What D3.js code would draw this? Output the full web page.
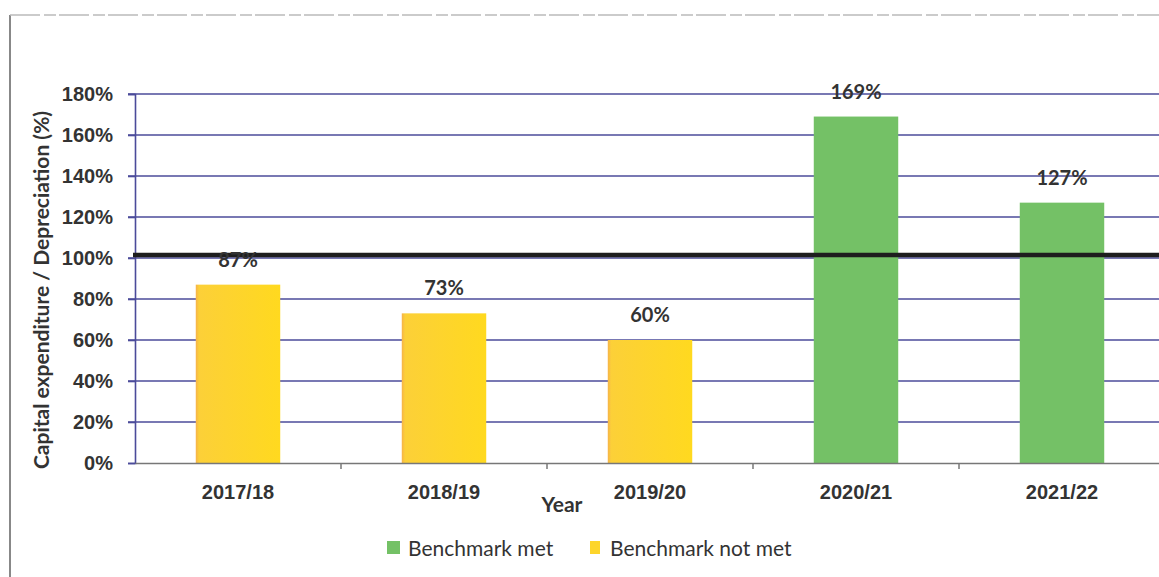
<!DOCTYPE html>
<html>
<head>
<meta charset="utf-8">
<script src="https://cdn.jsdelivr.net/npm/d3@7"></script>
<style>
  html, body { margin: 0; padding: 0; background: #fff; }
  svg { display: block; font-family: Lato, "Open Sans", sans-serif; }
</style>
</head>
<body>
<svg id="chart" width="1159" height="577"></svg>
<script>
// Capital expenditure as a share of depreciation, by financial year
const years = ["2017/18", "2018/19", "2019/20", "2020/21", "2021/22"];
const ratios = [87, 73, 60, 169, 127];
const benchmark = 100;
const yTicks = [0, 20, 40, 60, 80, 100, 120, 140, 160, 180];
const legendItems = ["Benchmark met", "Benchmark not met"];

const colMet = "#74c166";
const colNotMet = "#fdd52b";
const gridCol = "#4b4b9a";
const textCol = "#333";
const fs = 20;

const svg = d3.select("#chart");

// page frame
svg.append("line").attr("x1", 10).attr("x2", 10).attr("y1", 15).attr("y2", 577)
  .attr("stroke", "#888").attr("stroke-width", 2);
svg.append("line").attr("x1", 10).attr("x2", 1159).attr("y1", 15).attr("y2", 15)
  .attr("stroke", "#bbb").attr("stroke-width", 1.5).attr("stroke-dasharray", "30 4 12 3");

const plotLeft = 135, plotRight = 1165, plotTop = 94, plotBottom = 463;

const x = d3.scaleBand().domain(years).range([plotLeft, plotRight]).paddingInner(0.59).paddingOuter(0.295);
const y = d3.scaleLinear().domain([0, 180]).range([plotBottom, plotTop]);

// horizontal gridlines
svg.append("g").selectAll("line").data(yTicks.filter(d => d > 0)).join("line")
  .attr("x1", plotLeft - 7).attr("x2", 1159)
  .attr("y1", d => y(d)).attr("y2", d => y(d))
  .attr("stroke", gridCol).attr("stroke-width", 1.6);

// y axis
const yAxis = svg.append("g").attr("transform", `translate(${plotLeft},0)`)
  .call(d3.axisLeft(y).tickValues(yTicks).tickFormat(d => d + "%").tickSize(7).tickPadding(15));
yAxis.select(".domain").attr("stroke", gridCol).attr("stroke-width", 1.6);
yAxis.selectAll(".tick line").attr("stroke", gridCol).attr("stroke-width", 1.6);
yAxis.selectAll("text").attr("fill", textCol).attr("font-size", fs).attr("font-weight", "bold");

// bars
const grad = svg.append("defs").append("linearGradient").attr("id", "yel")
  .attr("x1", 0).attr("x2", 1).attr("y1", 0).attr("y2", 0);
grad.append("stop").attr("offset", "0").attr("stop-color", "#f6b34a");
grad.append("stop").attr("offset", "0.04").attr("stop-color", "#fcd038");
grad.append("stop").attr("offset", "1").attr("stop-color", "#ffd91f");

svg.append("g").selectAll("rect").data(years).join("rect")
  .attr("x", d => x(d))
  .attr("width", x.bandwidth())
  .attr("y", (d, i) => y(ratios[i]))
  .attr("height", (d, i) => plotBottom - y(ratios[i]))
  .attr("fill", (d, i) => ratios[i] >= benchmark ? colMet : "url(#yel)");

// x axis
const xAxis = svg.append("g").attr("transform", `translate(0,${plotBottom})`)
  .call(d3.axisBottom(x).tickSize(0).tickPadding(22));
xAxis.select(".domain").attr("stroke", "#777").attr("stroke-width", 1.5);
xAxis.selectAll("text").attr("fill", textCol).attr("font-size", fs).attr("font-weight", "bold");
// category separators
svg.append("g").selectAll("line").data(years.slice(1)).join("line")
  .attr("x1", d => x(d) - x.step() * x.paddingInner() / 2)
  .attr("x2", d => x(d) - x.step() * x.paddingInner() / 2)
  .attr("y1", plotBottom).attr("y2", plotBottom + 6)
  .attr("stroke", "#777").attr("stroke-width", 1.5);

// benchmark line
svg.append("line").attr("x1", plotLeft - 2).attr("x2", 1159)
  .attr("y1", y(benchmark) - 3).attr("y2", y(benchmark) - 3)
  .attr("stroke", "#1e1e1e").attr("stroke-width", 4.5);

// value labels
svg.append("g").selectAll("text").data(years).join("text")
  .attr("x", d => x(d) + x.bandwidth() / 2)
  .attr("y", (d, i) => y(ratios[i]) - 18)
  .attr("text-anchor", "middle")
  .attr("fill", textCol).attr("font-size", fs).attr("font-weight", "bold")
  .text((d, i) => ratios[i] + "%");

// axis titles
svg.append("text").attr("x", 562).attr("y", 512).attr("text-anchor", "middle")
  .attr("fill", textCol).attr("font-size", 21).attr("font-weight", "bold").text("Year");
svg.append("text").attr("transform", "translate(49,290) rotate(-90)").attr("text-anchor", "middle")
  .attr("fill", textCol).attr("font-size", 21).attr("font-weight", "bold")
  .text("Capital expenditure / Depreciation (%)");

// legend
const legendX = [387, 590];
const legendCol = [colMet, colNotMet];
const lg = svg.append("g").selectAll("g").data(legendItems).join("g")
  .attr("transform", (d, i) => `translate(${legendX[i]},541)`);
lg.append("rect").attr("width", (d, i) => i ? 10 : 13).attr("height", 13).attr("fill", (d, i) => legendCol[i]);
lg.append("text").attr("x", (d, i) => i ? 20 : 21).attr("y", 15).attr("fill", textCol)
  .attr("font-size", 21).text(d => d);
</script>
</body>
</html>
